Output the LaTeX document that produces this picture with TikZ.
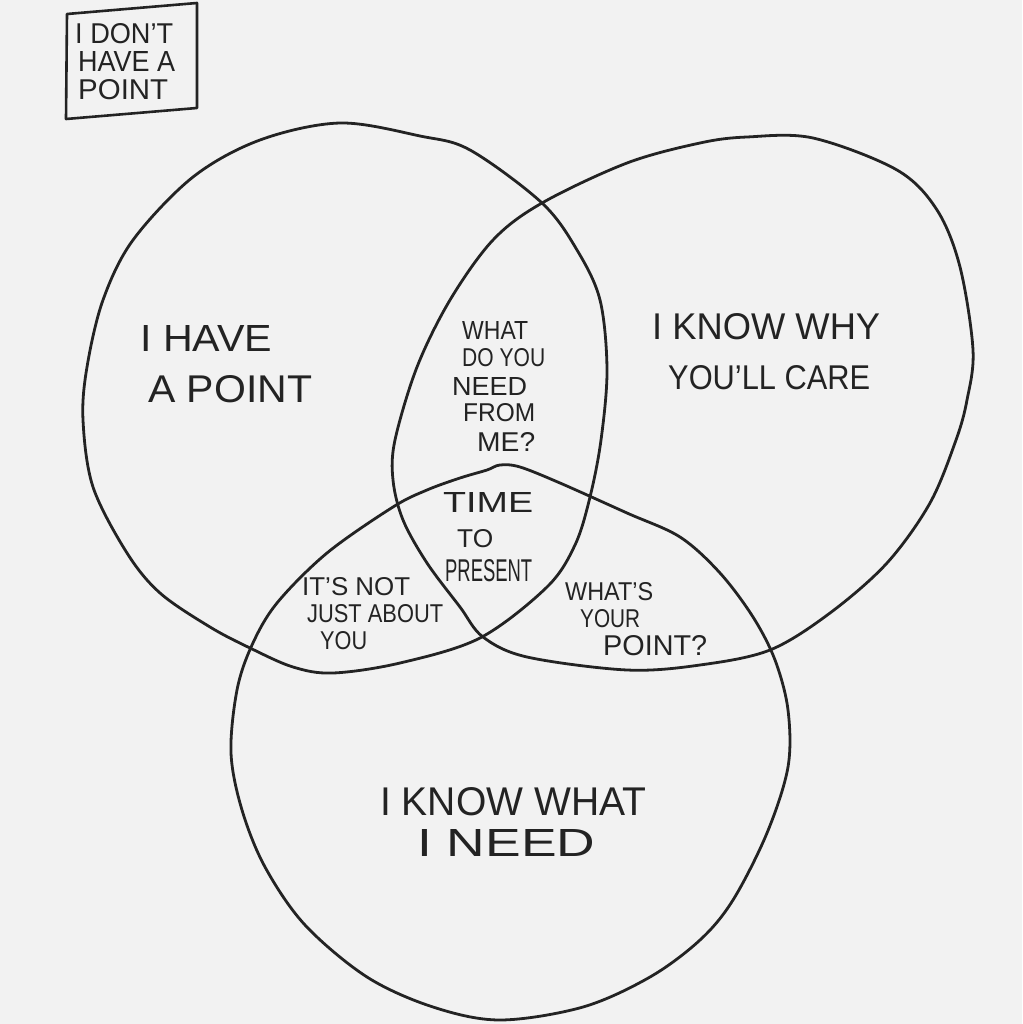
\documentclass[tikz,border=0pt]{standalone}
\usepackage{fontspec}
\setmainfont{Liberation Sans}
\usepackage{graphicx}
\definecolor{paper}{HTML}{F2F2F2}
\definecolor{ink}{HTML}{232323}
\newcommand\hw[3]{\resizebox{#1pt}{#2pt}{#3}}
\tikzset{
  venn/.style={draw=ink, line width=2.8pt, line join=round},
  lbl/.style={text=ink, inner sep=0pt, anchor=west},
}
\begin{document}
\begin{tikzpicture}[x=1pt,y=-1pt]
\fill[paper] (0,0) rectangle (1022,1024);
\useasboundingbox (0,0) rectangle (1022,1024);

% box
\draw[venn, line width=2.6pt] (67,14) -- (197,3) -- (197,108) -- (66,119) -- cycle;
\node[lbl] (t1) at (75,34) {\hw{98}{20}{I DON'T}};
\node[lbl] (t2) at (78,62) {\hw{97}{20}{HAVE A}};
\node[lbl] (t3) at (78,90) {\hw{90}{20}{POINT}};

% circle A
\draw[venn] plot[smooth cycle, tension=0.55] coordinates {
 (340,123) (420,136) (470,150) (542,203) (577,250) (600,300) (607,370)
 (601,440) (590,497) (575,545) (547,587) (480,638) (400,663) (333,673)
 (293,667) (250,648) (210,627) (160,593) (127,553) (93,487) (83,420)
 (87,367) (103,300) (133,240) (193,177) (260,140)};

% circle B
\draw[venn] plot[smooth cycle, tension=0.55] coordinates {
 (395,440) (417,367) (450,300) (493,240) (542,203) (627,163) (700,143)
 (747,137) (813,138) (897,170) (937,210) (960,267) (973,350) (967,400)
 (956,440) (930,503) (887,563) (830,613) (770,650) (700,665) (627,670)
 (527,657) (483,637) (460,607) (427,563) (403,520) (393,480)};

% circle C
\draw[venn] plot[smooth cycle, tension=0.55] coordinates {
 (500,465) (520,467) (560,483) (627,513) (680,537) (720,573) (753,617)
 (775,660) (788,710) (788,767) (767,833) (733,900) (700,940) (650,977)
 (583,1007) (500,1020) (433,1007) (367,977) (305,925) (265,867) (242,810)
 (231,753) (237,690) (252,645) (277,603) (327,553) (393,507) (427,490)
 (460,478) (487,470)};

% labels
\node[lbl] (a1) at (140,338) {\hw{132}{26}{I HAVE}};
\node[lbl] (a2) at (148,389) {\hw{164}{27}{A POINT}};

\node[lbl] (b1) at (652,327) {\hw{228}{26}{I KNOW WHY}};
\node[lbl] (b2) at (668,378) {\hw{202}{24}{YOU'LL CARE}};

\node[lbl] (c1) at (380,802) {\hw{266}{28}{I KNOW WHAT}};
\node[lbl] (c2) at (417,843) {\hw{178}{27}{I NEED}};

\node[lbl] (ab1) at (462,330) {\hw{66}{18}{WHAT}};
\node[lbl] (ab2) at (462,358) {\hw{83}{18}{DO YOU}};
\node[lbl] (ab3) at (452,386) {\hw{75}{18}{NEED}};
\node[lbl] (ab4) at (463,413) {\hw{72}{18}{FROM}};
\node[lbl] (ab5) at (477,442) {\hw{58}{19}{ME?}};

\node[lbl] (m1) at (443,502) {\hw{90}{20}{TIME}};
\node[lbl] (m2) at (457,539) {\hw{36}{18}{TO}};
\node[lbl] (m3) at (445,571) {\hw{87}{22}{PRESENT}};

\node[lbl] (ac1) at (302,587) {\hw{108}{18}{IT'S NOT}};
\node[lbl] (ac2) at (307,614) {\hw{136}{18}{JUST ABOUT}};
\node[lbl] (ac3) at (320,641) {\hw{47}{18}{YOU}};

\node[lbl] (bc1) at (565,592) {\hw{88}{18}{WHAT'S}};
\node[lbl] (bc2) at (580,619) {\hw{60}{18}{YOUR}};
\node[lbl] (bc3) at (603,646) {\hw{104}{20}{POINT?}};
\end{tikzpicture}
\end{document}
